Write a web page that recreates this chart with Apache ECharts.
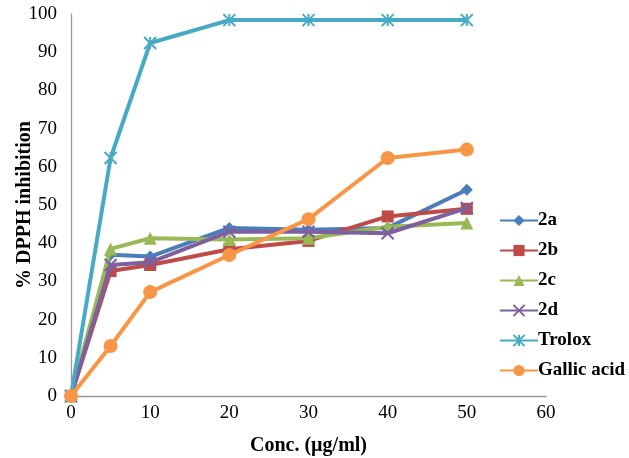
<!DOCTYPE html>
<html><head><meta charset="utf-8">
<script src="https://cdn.jsdelivr.net/npm/echarts@6/dist/echarts.min.js"></script>
<style>html,body{margin:0;padding:0;background:#fff}#c{width:629px;height:458px}</style>
</head><body><div id="c"></div>
<script>
var conc = [0, 5, 10, 20, 30, 40, 50];
var s2a = [0, 37, 36.5, 44, 43.5, 44, 54];
var s2b = [0, 32.7, 34.3, 38.4, 40.6, 47, 49];
var s2c = [0, 38.5, 41.3, 41, 41.3, 44.3, 45.3];
var s2d = [0, 34.3, 35, 43, 43, 42.6, 49.2];
var trolox = [0, 62.3, 92.4, 98.4, 98.4, 98.4, 98.4];
var gallic = [0, 13.1, 27.2, 36.9, 46.3, 62.3, 64.5];
var names = ['2a', '2b', '2c', '2d', 'Trolox', 'Gallic acid'];
var xTicks = [0, 10, 20, 30, 40, 50, 60];
var yTicks = [0, 10, 20, 30, 40, 50, 60, 70, 80, 90, 100];

var colors = ['#4A7EBB', '#BE4B48', '#98B954', '#7D60A0', '#46AAC5', '#F79646'];
var symbols = ['diamond', 'rect', 'triangle',
  'path://M0,0L10,10M10,0L0,10',
  'path://M5,0L5,10M0,0L10,10M10,0L0,10',
  'circle'];
var sizes = [12, 12, 13, 12, 12, 14];
var all = [s2a, s2b, s2c, s2d, trolox, gallic];
var font = 'Liberation Serif';

var series = all.map(function (vals, i) {
  var stroke = (i === 3 || i === 4);
  return {
    name: names[i], type: 'line',
    data: vals.map(function (v, j) { return [conc[j], v]; }),
    symbol: symbols[i], symbolSize: sizes[i],
    lineStyle: { color: colors[i], width: 4 },
    itemStyle: stroke ? { color: 'rgba(0,0,0,0)', borderColor: colors[i], borderWidth: 2 } : { color: colors[i] },
    emphasis: { disabled: true },
    z: 2 + i
  };
});

var chart = echarts.init(document.getElementById('c'), null, { renderer: 'canvas' });
chart.setOption({
  animation: false,
  backgroundColor: '#fff',
  grid: { left: 71, right: 83, top: 14, bottom: 62, containLabel: false, outerBoundsMode: 'none' },
  xAxis: {
    type: 'value', min: xTicks[0], max: xTicks[xTicks.length - 1], interval: 10,
    name: 'Conc. (µg/ml)', nameLocation: 'middle', nameGap: 40, nameMoveOverlap: false,
    nameTextStyle: { fontFamily: font, fontWeight: 'bold', fontSize: 20, color: '#000' },
    axisLine: { lineStyle: { color: '#999', width: 1.3 } },
    axisTick: { show: false },
    splitLine: { show: false },
    axisLabel: { fontFamily: font, fontSize: 19, color: '#000', margin: 8 }
  },
  yAxis: {
    type: 'value', min: yTicks[0], max: yTicks[yTicks.length - 1], interval: 10,
    name: '% DPPH inhibition', nameLocation: 'middle', nameGap: 36, nameRotate: 90, nameMoveOverlap: false,
    nameTextStyle: { fontFamily: font, fontWeight: 'bold', fontSize: 20, color: '#000' },
    axisLine: { show: true, lineStyle: { color: '#999', width: 1.3 } },
    axisTick: { show: false },
    splitLine: { show: false },
    axisLabel: { fontFamily: font, fontSize: 19, color: '#000', margin: 14 }
  },
  legend: {
    orient: 'vertical', left: 494, top: 206,
    itemWidth: 38, itemHeight: 14, itemGap: 11,
    textStyle: { fontFamily: font, fontWeight: 'bold', fontSize: 19, color: '#000', padding: [0, 0, 0, -5] },
    data: names
  },
  series: series
});
</script></body></html>
